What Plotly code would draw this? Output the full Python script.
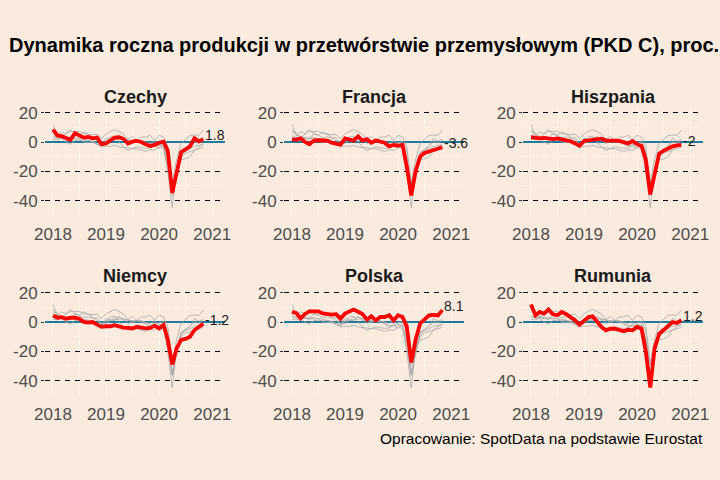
import plotly.graph_objects as go
import pandas as pd

# ---- data (monthly y/y change of manufacturing output, %, Jan 2018 - Nov 2020) ----
months = pd.date_range("2018-01-01", periods=35, freq="MS")

countries = ["Czechy", "Francja", "Hiszpania", "Niemcy", "Polska", "Rumunia"]

czechy = [8.5, 4.5, 4.0, 3.0, 1.5, 6.0, 4.5, 3.0, 3.5, 2.5, 3.0, -1.5,
          -1.0, 1.0, 3.0, 3.3, 2.2, -1.0, 0.2, 0.7, 0.0, -1.5, -2.7, -2.0,
          -0.5, 0.2, -6.0, -34.7, -22.0, -7.0, -5.0, -3.0, 2.5, 0.5, 1.8]
francja = [1.8, 1.5, 2.5, 0.0, -1.5, 1.0, 1.2, 0.8, 1.0, -0.5, -1.5, -1.8,
           2.5, 1.5, 1.0, 3.8, 1.0, 2.0, -0.5, 1.0, 0.5, -0.5, -3.0, -2.0,
           -2.5, -2.0, -17.0, -36.5, -20.0, -10.0, -7.5, -6.5, -5.5, -4.8, -3.6]
hiszpania = [3.3, 2.8, 2.5, 2.8, 2.2, 2.0, 2.5, 1.8, 1.0, 0.5, -1.0, -2.7,
             0.7, 1.2, 1.5, 2.0, 2.3, 1.0, 1.2, 1.0, 0.8, 0.0, -1.0, 0.7,
             -1.5, -2.7, -12.0, -35.8, -21.0, -8.0, -6.0, -4.4, -3.0, -2.3, -2.0]
niemcy = [4.4, 2.9, 3.3, 2.2, 2.9, 2.9, 2.2, 0.0, -0.4, 0.0, -1.8, -3.3,
          -2.9, -2.9, -2.2, -3.3, -3.8, -4.0, -4.4, -3.3, -3.8, -4.4, -4.0, -2.5,
          -4.4, -2.0, -12.0, -29.0, -18.0, -12.2, -11.5, -10.0, -5.5, -3.5, -1.2]
polska = [6.9, 6.0, 2.5, 5.5, 7.3, 7.0, 7.3, 5.8, 5.3, 5.0, 5.3, 2.3,
          5.7, 6.9, 8.5, 7.0, 5.5, 1.6, 3.9, 1.1, 3.4, 3.4, 4.6, 1.1,
          4.6, 3.4, -3.0, -27.6, -12.0, -1.0, 1.5, 4.5, 4.8, 4.5, 8.1]
rumunia = [12.0, 4.5, 6.9, 5.7, 8.5, 5.3, 4.6, 6.9, 5.3, 3.4, 1.1, -1.8,
           0.5, 3.4, 3.9, 0.0, -3.4, -5.7, -4.6, -4.6, -5.7, -6.4, -5.3, -5.7,
           -3.4, -4.5, -20.0, -44.8, -18.0, -8.0, -5.5, -2.5, 0.0, -0.7, 1.2]

series = [czechy, francja, hiszpania, niemcy, polska, rumunia]
end_labels = ["1.8", "-3.6", "-2", "-1.2", "8.1", "1.2"]

y_ticks = [-40, -20, 0, 20]
y_ticktext = ["-40", "-20", "0", "20"]
x_ticks = ["2018-01-01", "2019-01-01", "2020-01-01", "2021-01-01"]
x_ticktext = ["2018", "2019", "2020", "2021"]

# ---- layout geometry (pixels in a 720x480 canvas) ----
W, H = 720, 480
BG = "#FAEBDE"
LIGHT = "#FFF4EA"
col_px = [(45, 225), (284, 464), (523, 703)]
row_px = [(108.3, 215.25), (288.3, 395.25)]
FONT = "Liberation Sans, Arial, sans-serif"

fig = go.Figure()
annotations = []

for k, name in enumerate(countries):
    ax = "" if k == 0 else str(k + 1)
    xref, yref = "x" + ax, "y" + ax
    for j, other in enumerate(countries):
        if j == k:
            continue
        fig.add_trace(go.Scatter(x=months, y=series[j], mode="lines",
                                 line=dict(color="#A8A8A8", width=0.8),
                                 xaxis=xref, yaxis=yref, showlegend=False,
                                 hoverinfo="skip"))
    fig.add_trace(go.Scatter(x=months, y=series[k], mode="lines",
                             line=dict(color="#FF0000", width=3.8),
                             xaxis=xref, yaxis=yref, showlegend=False,
                             name=name))
    annotations.append(dict(x=months[-1], y=series[k][-1], xref=xref, yref=yref,
                            text=end_labels[k], showarrow=False,
                            xanchor="left", yanchor="middle", xshift=0, yshift=4,
                            font=dict(family=FONT, size=14, color="#1A1A1A")))

    r, c = divmod(k, 3)
    x0, x1 = col_px[c]
    t, b = row_px[r]
    fig.update_layout(**{
        "xaxis" + ax: dict(
            domain=[x0 / W, x1 / W], anchor=yref, automargin=False,
            range=["2017-11-07", "2021-03-30"], type="date",
            tickvals=x_ticks, ticktext=x_ticktext,
            ticks="outside", ticklen=3, tickcolor=BG,
            tickfont=dict(family=FONT, size=17, color="#4D4D4D"),
            showgrid=True, gridcolor=LIGHT, gridwidth=1,
            minor=dict(tickvals=["2018-07-01", "2019-07-01", "2020-07-01"],
                       showgrid=True, gridcolor=LIGHT, gridwidth=0.6),
            zeroline=False, showline=False, fixedrange=True),
        "yaxis" + ax: dict(
            domain=[1 - b / H, 1 - t / H], anchor=xref, automargin=False,
            range=[-50, 23],
            tickvals=y_ticks, ticktext=y_ticktext,
            ticks="outside", ticklen=3, tickcolor="#333333",
            tickfont=dict(family=FONT, size=17, color="#4D4D4D"),
            showgrid=True, gridcolor="#000000", gridwidth=1, griddash="5px,5px",
            minor=dict(tickvals=[-30, -10, 10], showgrid=True,
                       gridcolor=LIGHT, gridwidth=0.6),
            zeroline=True, zerolinecolor="#1F7A9E", zerolinewidth=2.2,
            showline=False, fixedrange=True),
    })
    annotations.append(dict(x=(x0 + x1) / 2 / W, y=1 - (97 if r == 0 else 276) / H,
                            xref="paper", yref="paper", text="<b>%s</b>" % name,
                            showarrow=False, xanchor="center", yanchor="middle",
                            font=dict(family=FONT, size=18, color="#1A1A1A")))

annotations.append(dict(x=364 / W, y=1 - 45 / H, xref="paper", yref="paper",
                        text="<b>Dynamika roczna produkcji w przetwórstwie przemysłowym (PKD C), proc.</b>",
                        showarrow=False, xanchor="center", yanchor="middle",
                        font=dict(family=FONT, size=20, color="#000000")))
annotations.append(dict(x=705 / W, y=1 - 438 / H, xref="paper", yref="paper",
                        text="Opracowanie: SpotData na podstawie Eurostat",
                        showarrow=False, xanchor="right", yanchor="middle",
                        font=dict(family=FONT, size=15.5, color="#000000")))

fig.update_layout(width=W, height=H, margin=dict(l=0, r=0, t=0, b=0, autoexpand=False),
                  paper_bgcolor=BG, plot_bgcolor=BG,
                  annotations=annotations, showlegend=False)

fig.write_html("out.html", config={"displayModeBar": False},
               post_script="document.body.style.margin='0';"
                           "document.body.style.overflow='hidden';"
                           "document.documentElement.style.overflow='hidden';")
